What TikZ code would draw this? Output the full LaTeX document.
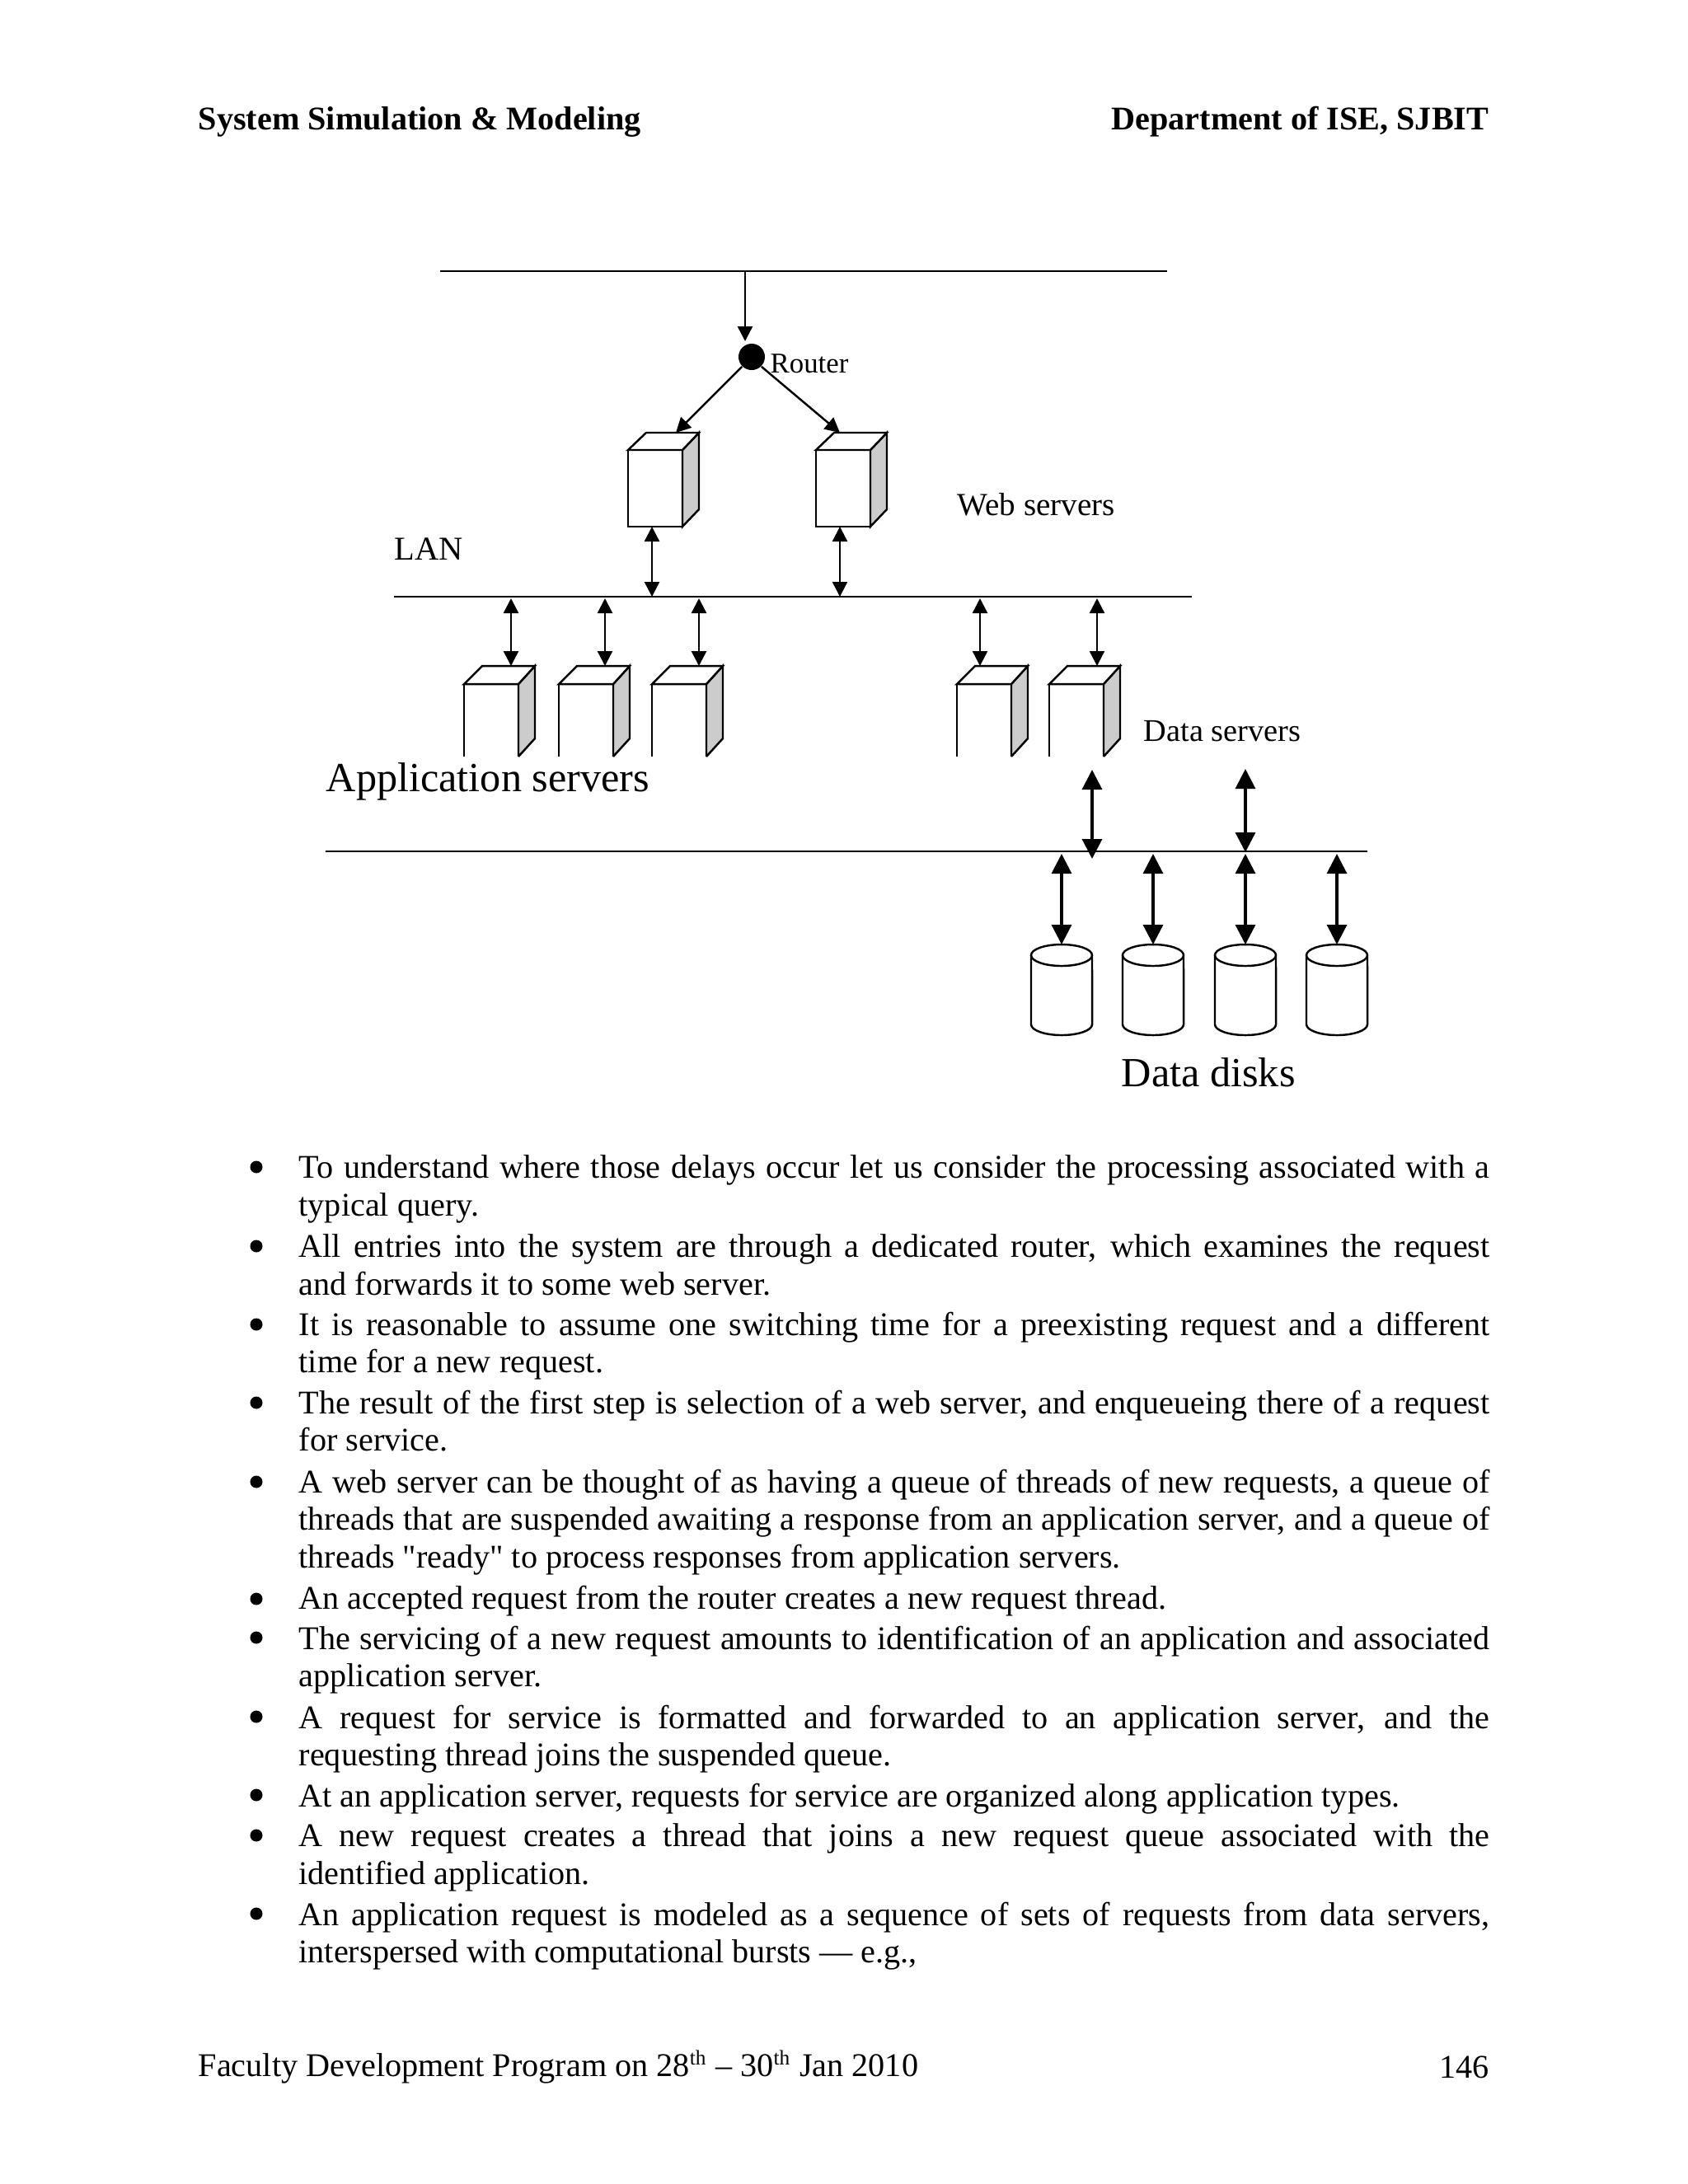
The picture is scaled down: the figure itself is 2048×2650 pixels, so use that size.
\documentclass[tikz,border=0pt]{standalone}
\usepackage{fontspec}
\setmainfont{Liberation Serif}
\newfontfamily\rawquote{Liberation Serif}
\usepackage{tikz}
\usetikzlibrary{arrows.meta}
\hyphenpenalty=10000
\tolerance=9000
\tikzset{
    bus/.style={line width=0.8pt},
    thinarrow/.style={line width=0.7pt, {Triangle[length=0.18cm,width=0.18cm]}-{Triangle[length=0.18cm,width=0.18cm]}},
    onearrow/.style={line width=0.7pt, -{Triangle[length=0.18cm,width=0.18cm]}},
    bigarrow/.style={line width=0.9pt, {Triangle[length=0.24cm,width=0.24cm]}-{Triangle[length=0.24cm,width=0.24cm]}},
    frontface/.style={draw, line width=0.7pt, minimum width=0.66cm, inner sep=0pt},
    sideface/.style={draw, line width=0.7pt, fill=gray!40},
    diskline/.style={line width=0.7pt},
    bodytext/.style={anchor=north west, inner sep=0pt, text width=14.44cm, align=justify, font=\fontsize{11.43}{13.05}\selectfont},
    bulletdot/.style={circle, fill=black, inner sep=0pt, minimum size=0.15cm},
    pageline/.style={inner sep=0pt, font=\fontsize{11.43}{13.05}\selectfont}
}
\begin{document}
\begin{tikzpicture}[x=0.01cm, y=-0.01cm]
    \path[use as bounding box, fill=white] (0,0) rectangle (2048,2650);

    % Page header
    \node[pageline, anchor=west] (headleft) at (240,148) {\textbf{System Simulation \& Modeling}};
    \node[pageline, anchor=east] (headright) at (1807,148) {\textbf{Department of ISE, SJBIT}};

    % Buses
    \coordinate (wanleft) at (534,329);
    \coordinate (wanright) at (1416,329);
    \coordinate (lanleft) at (478,724);
    \coordinate (lanright) at (1446,724);
    \coordinate (sanleft) at (395,1033);
    \coordinate (sanright) at (1659,1033);
    \draw[bus] (wanleft) -- (wanright);
    \draw[bus] (lanleft) -- (lanright);
    \draw[bus] (sanleft) -- (sanright);

    % Router
    \node[circle, fill=black, inner sep=0pt, minimum size=0.32cm] (router) at (912,433) {};
    \node[anchor=west, inner sep=0pt, font=\fontsize{9.9}{12}\selectfont] (routerlabel) at (934,441) {Router};
    \coordinate (wanout) at (904,329);
    \coordinate (routerin) at (904,414);
    \draw[onearrow] (wanout) -- (routerin);

    % Web servers
    \foreach \name/\x in {web1/762, web2/990} {
        \draw[sideface] (\x+66,546) -- (\x+86,525) -- (\x+86,618) -- (\x+66,639) -- cycle;
        \draw[line width=0.7pt, fill=white] (\x,546) -- (\x+22,525) -- (\x+86,525) -- (\x+66,546) -- cycle;
        \node[frontface, minimum height=0.93cm] (\name) at (\x+33,592.5) {};
    }
    \coordinate (web1in) at (820,525);
    \coordinate (web2in) at (1019,525);
    \draw[onearrow] (router.225) -- (web1in);
    \draw[onearrow] (router.315) -- (web2in);
    \node[anchor=west, inner sep=0pt, font=\fontsize{11.1}{13}\selectfont] (weblabel) at (1161,612) {Web servers};
    \node[anchor=west, inner sep=0pt, font=\fontsize{11.5}{13}\selectfont] (lanlabel) at (478,666) {LAN};

    % Web servers to LAN
    \foreach \name/\x in {web1/791, web2/1019} {
        \coordinate (\name out) at (\x,639);
        \coordinate (\name lan) at (\x,724);
        \draw[thinarrow] (\name out) -- (\name lan);
    }

    % Application and data servers, cut off at the bottom
    \foreach \name/\x/\a in {app1/563/620, app2/678/734, app3/791/848, data1/1161/1189, data2/1273/1331} {
        \draw[sideface] (\x+66,918) -- (\x+66,830) -- (\x+86,808) -- (\x+86,896) -- (\x+66,918);
        \draw[line width=0.7pt, fill=white] (\x,830) -- (\x+22,808) -- (\x+86,808) -- (\x+66,830) -- cycle;
        \draw[line width=0.7pt] (\x,918) -- (\x,830);
        \coordinate (\name in) at (\a,808);
        \coordinate (\name lan) at (\a,726);
        \draw[thinarrow] (\name lan) -- (\name in);
    }
    \node[anchor=west, inner sep=0pt, font=\fontsize{14.3}{16}\selectfont] (applabel) at (395,948) {Application servers};
    \node[anchor=west, inner sep=0pt, font=\fontsize{10.9}{13}\selectfont] (datalabel) at (1387,887) {Data servers};

    % Data servers to second bus
    \coordinate (up1) at (1325,934);
    \coordinate (down1) at (1325,1042);
    \coordinate (up2) at (1511,933);
    \coordinate (down2) at (1511,1034);
    \draw[bigarrow] (up1) -- (down1);
    \draw[bigarrow] (up2) -- (down2);

    % Data disks
    \foreach \name/\x in {disk1/1288, disk2/1399, disk3/1511, disk4/1622} {
        \draw[diskline] (\x,1159) ellipse [x radius=0.37cm, y radius=0.13cm];
        \draw[diskline] (\x-37,1159) -- (\x-37,1243) arc [start angle=180, end angle=360, x radius=0.37cm, y radius=0.13cm] -- (\x+37,1159);
        \coordinate (\name top) at (\x,1146);
        \coordinate (\name bus) at (\x,1036);
        \draw[bigarrow] (\name bus) -- (\name top);
    }
    \node[anchor=west, inner sep=0pt, font=\fontsize{14.3}{16}\selectfont] (disklabel) at (1360,1301) {Data disks};

    % Bullet list
    \foreach \name/\y in {a/1416, b/1512, c/1607, d/1702, e/1798, f/1940, g/1987, h/2083, i/2178, j/2227, k/2322} {
        \node[bulletdot] (dot\name) at (311,\y) {};
    }
    \node[bodytext] (item1) at (362,1401) {To understand where those delays occur let us consider the processing associated with a typical query.};
    \node[bodytext] (item2) at (362,1497) {All entries into the system are through a dedicated router, which examines the request\linebreak and forwards it to some web server.};
    \node[bodytext] (item3) at (362,1591) {It is reasonable to assume one switching time for a preexisting request and a different\linebreak time for a new request.};
    \node[bodytext] (item4) at (362,1686) {The result of the first step is selection of a web server, and enqueueing there of a request for service.};
    \node[bodytext] (item5) at (362,1782) {A web server can be thought of as having a queue of threads of new requests, a queue of threads that are suspended awaiting a response from an application server, and a queue of threads {\rawquote "ready"} to process responses from application servers.};
    \node[bodytext] (item6) at (362,1923) {An accepted request from the router creates a new request thread.};
    \node[bodytext] (item7) at (362,1972) {The servicing of a new request amounts to identification of an application and associated application server.};
    \node[bodytext] (item8) at (362,2068) {A request for service is formatted and forwarded to an application server, and the\linebreak requesting thread joins the suspended queue.};
    \node[bodytext] (item9) at (362,2163) {At an application server, requests for service are organized along application types.};
    \node[bodytext] (item10) at (362,2212) {A new request creates a thread that joins a new request queue associated with the\linebreak identified application.};
    \node[bodytext] (item11) at (362,2307) {An application request is modeled as a sequence of sets of requests from data servers, interspersed with computational bursts --- e.g.,};

    % Page footer
    \node[pageline, anchor=west] (footleft) at (240,2508) {Faculty Development Program on 28\textsuperscript{\fontsize{7.2}{8}\selectfont th} -- 30\textsuperscript{\fontsize{7.2}{8}\selectfont th} Jan 2010};
    \node[pageline, anchor=east] (footright) at (1807,2508) {146};
\end{tikzpicture}
\end{document}
